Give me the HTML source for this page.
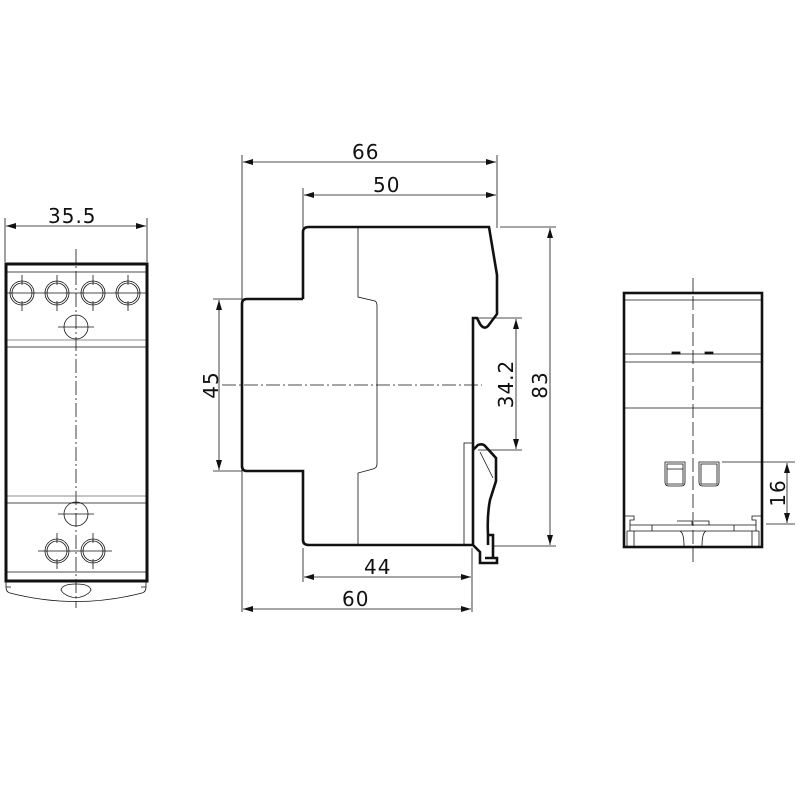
<!DOCTYPE html>
<html><head><style>body{margin:0;background:#fff}svg{display:block}text{font-family:"DejaVu Sans","Liberation Sans",sans-serif;font-size:20px;fill:#111;letter-spacing:1px}</style></head><body>
<svg width="800" height="800" viewBox="0 0 800 800" xmlns="http://www.w3.org/2000/svg">
<defs><marker id="a" viewBox="0 0 10 6" refX="10" refY="3" markerWidth="10" markerHeight="6" orient="auto-start-reverse" markerUnits="userSpaceOnUse"><path d="M0,0L10,3L0,6z" fill="#111"/></marker>
<g id="h" stroke="#111" fill="none" stroke-width="0.8"><circle r="12"/><circle r="10"/><line x1="0" y1="-18" x2="0" y2="-8"/><line x1="0" y1="8" x2="0" y2="18"/></g></defs>
<g stroke="#111" fill="none">
<!-- LEFT VIEW -->
<g stroke-width="0.8">
<line x1="5" y1="218" x2="5" y2="262"/><line x1="147" y1="218" x2="147" y2="262"/>
<line x1="6" y1="226" x2="146" y2="226" marker-start="url(#a)" marker-end="url(#a)"/>
<line x1="76" y1="249" x2="76" y2="608" stroke-dasharray="14,3,2,3"/>
<line x1="6" y1="272" x2="146" y2="272"/>
<line x1="6" y1="340" x2="146" y2="340" stroke="#666"/><line x1="6" y1="347" x2="146" y2="347"/>
<line x1="6" y1="496" x2="146" y2="496" stroke="#666"/><line x1="6" y1="503" x2="146" y2="503"/>
<line x1="6" y1="572" x2="146" y2="572"/>
<line x1="6" y1="293" x2="146" y2="293"/>
<use href="#h" x="22" y="293"/><use href="#h" x="57" y="293"/><use href="#h" x="93" y="293"/><use href="#h" x="128" y="293"/>
<circle cx="76" cy="327" r="12"/><line x1="58" y1="327" x2="94" y2="327"/>
<circle cx="76" cy="514" r="12"/><line x1="58" y1="514" x2="94" y2="514"/>
<line x1="38" y1="551" x2="112" y2="551"/>
<use href="#h" x="57" y="551"/><use href="#h" x="93" y="551"/>
<path d="M6,580 V587 H11 M6,587 Q6,592 10,593 Q76,610 142,593 Q146,592 146,587 V580 M146,587 H141"/>
<path d="M76,584 Q62,584 61,590 Q64,596 76,598 Q88,596 91,590 Q90,584 76,584 Z"/>
</g>
<rect x="6" y="264" width="141" height="317" stroke-width="3"/>
<!-- MIDDLE VIEW -->
<g stroke-width="0.8">
<line x1="242" y1="155" x2="242" y2="612"/><line x1="497" y1="155" x2="497" y2="228"/>
<line x1="243" y1="162" x2="496" y2="162" marker-start="url(#a)" marker-end="url(#a)"/>
<line x1="303" y1="188" x2="303" y2="228"/>
<line x1="304" y1="195" x2="496" y2="195" marker-start="url(#a)" marker-end="url(#a)"/>
<line x1="303" y1="548" x2="303" y2="582"/><line x1="472" y1="548" x2="472" y2="612"/>
<line x1="304" y1="577" x2="471" y2="577" marker-start="url(#a)" marker-end="url(#a)"/>
<line x1="243" y1="609" x2="471" y2="609" marker-start="url(#a)" marker-end="url(#a)"/>
<line x1="213" y1="299" x2="242" y2="299"/><line x1="213" y1="471" x2="242" y2="471"/>
<line x1="219" y1="300" x2="219" y2="470" marker-start="url(#a)" marker-end="url(#a)"/>
<line x1="478" y1="318" x2="522" y2="318"/><line x1="478" y1="450" x2="522" y2="450"/>
<line x1="516" y1="319" x2="516" y2="449" marker-start="url(#a)" marker-end="url(#a)"/>
<line x1="500" y1="227" x2="556" y2="227"/><line x1="492" y1="546" x2="556" y2="546"/>
<line x1="550" y1="228" x2="550" y2="545" marker-start="url(#a)" marker-end="url(#a)"/>
<line x1="222" y1="385" x2="482" y2="385" stroke-dasharray="14,3,2,3"/>
<path d="M358,228 V297 L375,301 Q377,302 377,306 V464 Q377,468 373,469 L358,473 V545"/>
<rect x="464" y="443" width="9" height="102"/>
<line x1="480" y1="452" x2="493" y2="478"/>
</g>
<path stroke-width="2.6" d="M303,299 V232 Q303,227 309,227 H489 L497,275 V314 L488,326 Q484,330 480,324 L477,318 H473 V450 L478,445 Q483,443 486,447 L496,458 V481 L490,500 Q487,515 488,535 V545 M473,450 V545 H309 Q303,545 303,540 V471 H247 Q242,471 242,466 V304 Q242,299 247,299 H303 M473,545 L480,552 V563 H497 V558 H485 M488,535 H493 V558"/>
<!-- RIGHT VIEW -->
<g stroke-width="0.8">
<line x1="693" y1="278" x2="693" y2="566" stroke-dasharray="14,4"/>
<line x1="625" y1="300" x2="762" y2="300"/>
<line x1="625" y1="354" x2="762" y2="354"/><line x1="625" y1="362" x2="762" y2="362"/>
<line x1="625" y1="408" x2="762" y2="408"/>
<rect x="672" y="352" width="8" height="2" fill="#111"/><rect x="705" y="352" width="8" height="2" fill="#111"/>
<path d="M665,462 H685 V482 Q685,486 681,486 H669 Q665,486 665,482 Z M667,464 H683 V484 H667 Z M667,469 H683"/>
<path d="M699,462 H719 V482 Q719,486 715,486 H703 Q699,486 699,482 Z M701,464 H717 V484 H701 Z"/>
<line x1="722" y1="462" x2="795" y2="462"/><line x1="766" y1="524" x2="795" y2="524"/>
<line x1="787" y1="463" x2="787" y2="523" marker-start="url(#a)" marker-end="url(#a)"/>
<path d="M625,516 H634 V520 H630 V525 H756 V520 H752 V516 H761 M630,525 V531 M756,525 V531 M627,531 H759 M627,531 V546 M759,531 V546 M634,531 V546 M752,531 V546 M652,525 V531 M734,525 V531 M674,525 H712 M677,521 H692 V525 M694,521 H709 V525 M680,531 Q684,533 684,546 M706,531 Q702,533 702,546"/>
</g>
<rect x="624" y="293" width="138" height="254" stroke-width="2.6"/>
</g>
<text x="48" y="223">35.5</text>
<text x="352" y="159">66</text>
<text x="373" y="192">50</text>
<text x="364" y="574">44</text>
<text x="342" y="606">60</text>
<text transform="translate(218,385) rotate(-90)" text-anchor="middle">45</text>
<text transform="translate(513,384) rotate(-90)" text-anchor="middle">34.2</text>
<text transform="translate(547,385) rotate(-90)" text-anchor="middle">83</text>
<text transform="translate(785,493) rotate(-90)" text-anchor="middle">16</text>
</svg>
</body></html>
